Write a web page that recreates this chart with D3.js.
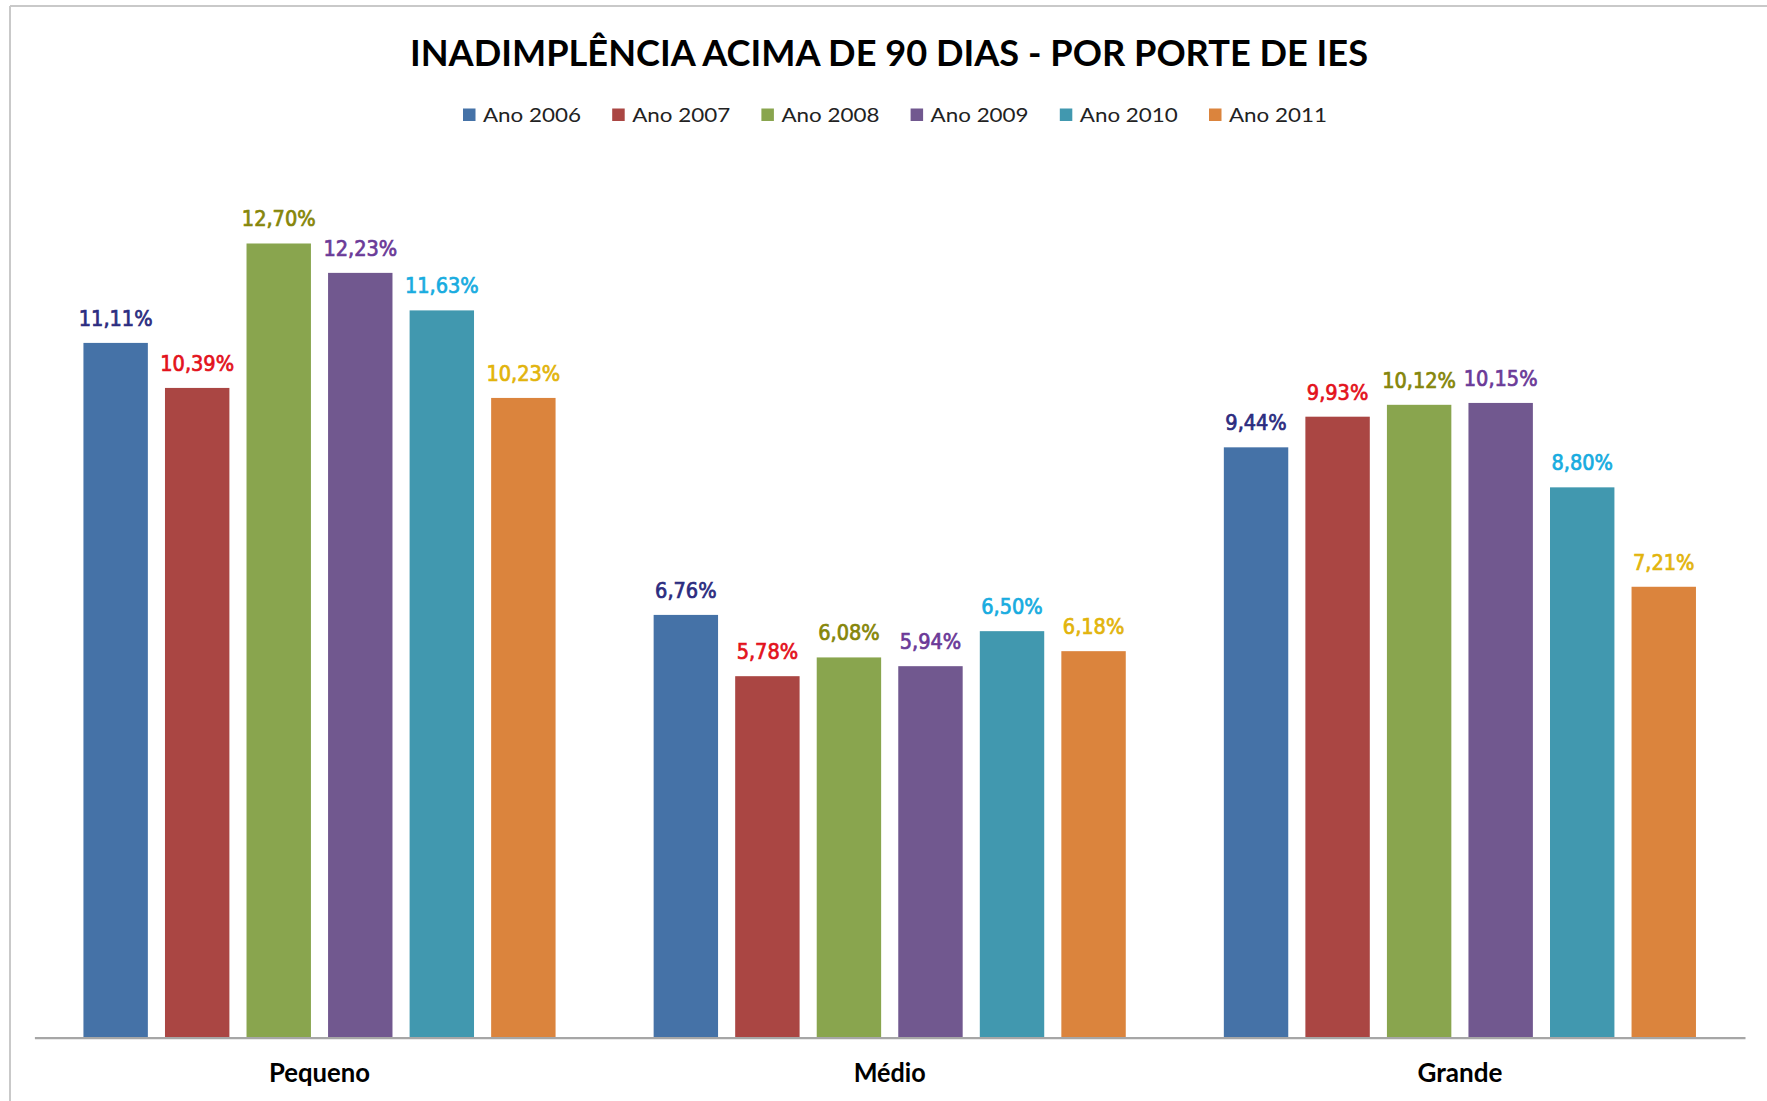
<!DOCTYPE html>
<html>
<head>
<meta charset="utf-8">
<script src="https://cdn.jsdelivr.net/npm/d3@7"></script>
<style>
  body { margin: 0; background: #fff; }
  svg { display: block; }
</style>
</head>
<body>
<div id="chart"></div>
<script>
// data
const categories = ["Pequeno", "Médio", "Grande"];
const seriesNames = ["Ano 2006", "Ano 2007", "Ano 2008", "Ano 2009", "Ano 2010", "Ano 2011"];
const ano2006 = [11.11, 6.76, 9.44];
const ano2007 = [10.39, 5.78, 9.93];
const ano2008 = [12.70, 6.08, 10.12];
const ano2009 = [12.23, 5.94, 10.15];
const ano2010 = [11.63, 6.50, 8.80];
const ano2011 = [10.23, 6.18, 7.21];
const seriesValues = [ano2006, ano2007, ano2008, ano2009, ano2010, ano2011];

const barColors   = ["#4572A7", "#AA4643", "#89A54E", "#71588F", "#4198AF", "#DB843D"];
const labelColors = ["#2c2c80", "#e3121c", "#86860a", "#6b3a98", "#18ace0", "#e2b40c"];

const svgWidth = 1767, svgHeight = 1101;
const plot = { left: 34.4, right: 1745, baseline: 1037.6, top: 162.2 };

const svg = d3.select("#chart").append("svg")
  .attr("width", svgWidth)
  .attr("height", svgHeight);

// frame (only top + left edges show in the picture)
svg.append("line")
  .attr("x1", 10).attr("x2", svgWidth).attr("y1", 6).attr("y2", 6)
  .attr("stroke", "#c9c9c9").attr("stroke-width", 2);
svg.append("line")
  .attr("x1", 10).attr("x2", 10).attr("y1", 6).attr("y2", svgHeight)
  .attr("stroke", "#c9c9c9").attr("stroke-width", 2);

// title
svg.append("text")
  .attr("x", 889).attr("y", 66)
  .attr("text-anchor", "middle")
  .attr("textLength", 958)
  .attr("lengthAdjust", "spacingAndGlyphs")
  .style("font-family", "Lato, 'Open Sans', sans-serif")
  .style("font-weight", "700")
  .style("font-size", "37px")
  .attr("fill", "#000")
  .text("INADIMPLÊNCIA ACIMA DE 90 DIAS - POR PORTE DE IES");

// legend
const legend = svg.append("g");
seriesNames.forEach((name, i) => {
  const lx = 463 + i * 149.2;
  legend.append("rect")
    .attr("x", lx).attr("y", 108.5)
    .attr("width", 12.5).attr("height", 12.5)
    .attr("fill", barColors[i]);
  legend.append("text")
    .attr("x", lx + 20).attr("y", 122)
    .attr("textLength", 98)
    .attr("lengthAdjust", "spacingAndGlyphs")
    .style("font-family", "Lato, 'Open Sans', sans-serif")
    .style("font-size", "20px")
    .attr("fill", "#222")
    .text(name);
});

// scales
const x0 = d3.scaleBand()
  .domain(categories)
  .range([plot.left, plot.right])
  .paddingInner(0.172)
  .paddingOuter(0.086);

const x1 = d3.scaleBand()
  .domain(seriesNames)
  .range([0, x0.bandwidth()])
  .paddingInner(0.21)
  .paddingOuter(0);

const y = d3.scaleLinear()
  .domain([0, 14])
  .range([plot.baseline, plot.top]);

const fmt = v => v.toFixed(2).replace(".", ",") + "%";

// bars + labels
categories.forEach((cat, ci) => {
  const g = svg.append("g").attr("transform", `translate(${x0(cat)},0)`);
  seriesNames.forEach((name, si) => {
    const v = seriesValues[si][ci];
    g.append("rect")
      .attr("x", x1(name))
      .attr("y", y(v))
      .attr("width", x1.bandwidth())
      .attr("height", y(0) - y(v))
      .attr("fill", barColors[si]);
    g.append("text")
      .attr("x", x1(name) + x1.bandwidth() / 2)
      .attr("y", y(v) - 17)
      .attr("text-anchor", "middle")
      .style("font-family", "'DejaVu Sans Condensed', 'DejaVu Sans', sans-serif")
      .style("font-size", "21.5px")
      .attr("fill", labelColors[si])
      .attr("stroke", labelColors[si])
      .attr("stroke-width", 0.7)
      .text(fmt(v));
  });
});

// x axis line
const xAxis = svg.append("g")
  .attr("transform", `translate(0,${plot.baseline})`)
  .call(d3.axisBottom(x0).tickSize(0).tickPadding(0).tickFormat(""));
xAxis.select("path.domain")
  .attr("stroke", "#a6a6a6")
  .attr("stroke-width", 2.2);

// category labels
svg.append("g").selectAll("text")
  .data(categories)
  .join("text")
    .attr("x", d => x0(d) + x0.bandwidth() / 2)
    .attr("y", 1082)
    .attr("text-anchor", "middle")
    .attr("textLength", d => d === "Médio" ? 72 : (d === "Grande" ? 85 : 101))
    .attr("lengthAdjust", "spacingAndGlyphs")
    .style("font-family", "Lato, 'Open Sans', sans-serif")
    .style("font-weight", "700")
    .style("font-size", "27px")
    .attr("fill", "#000")
    .text(d => d);
</script>
</body>
</html>
